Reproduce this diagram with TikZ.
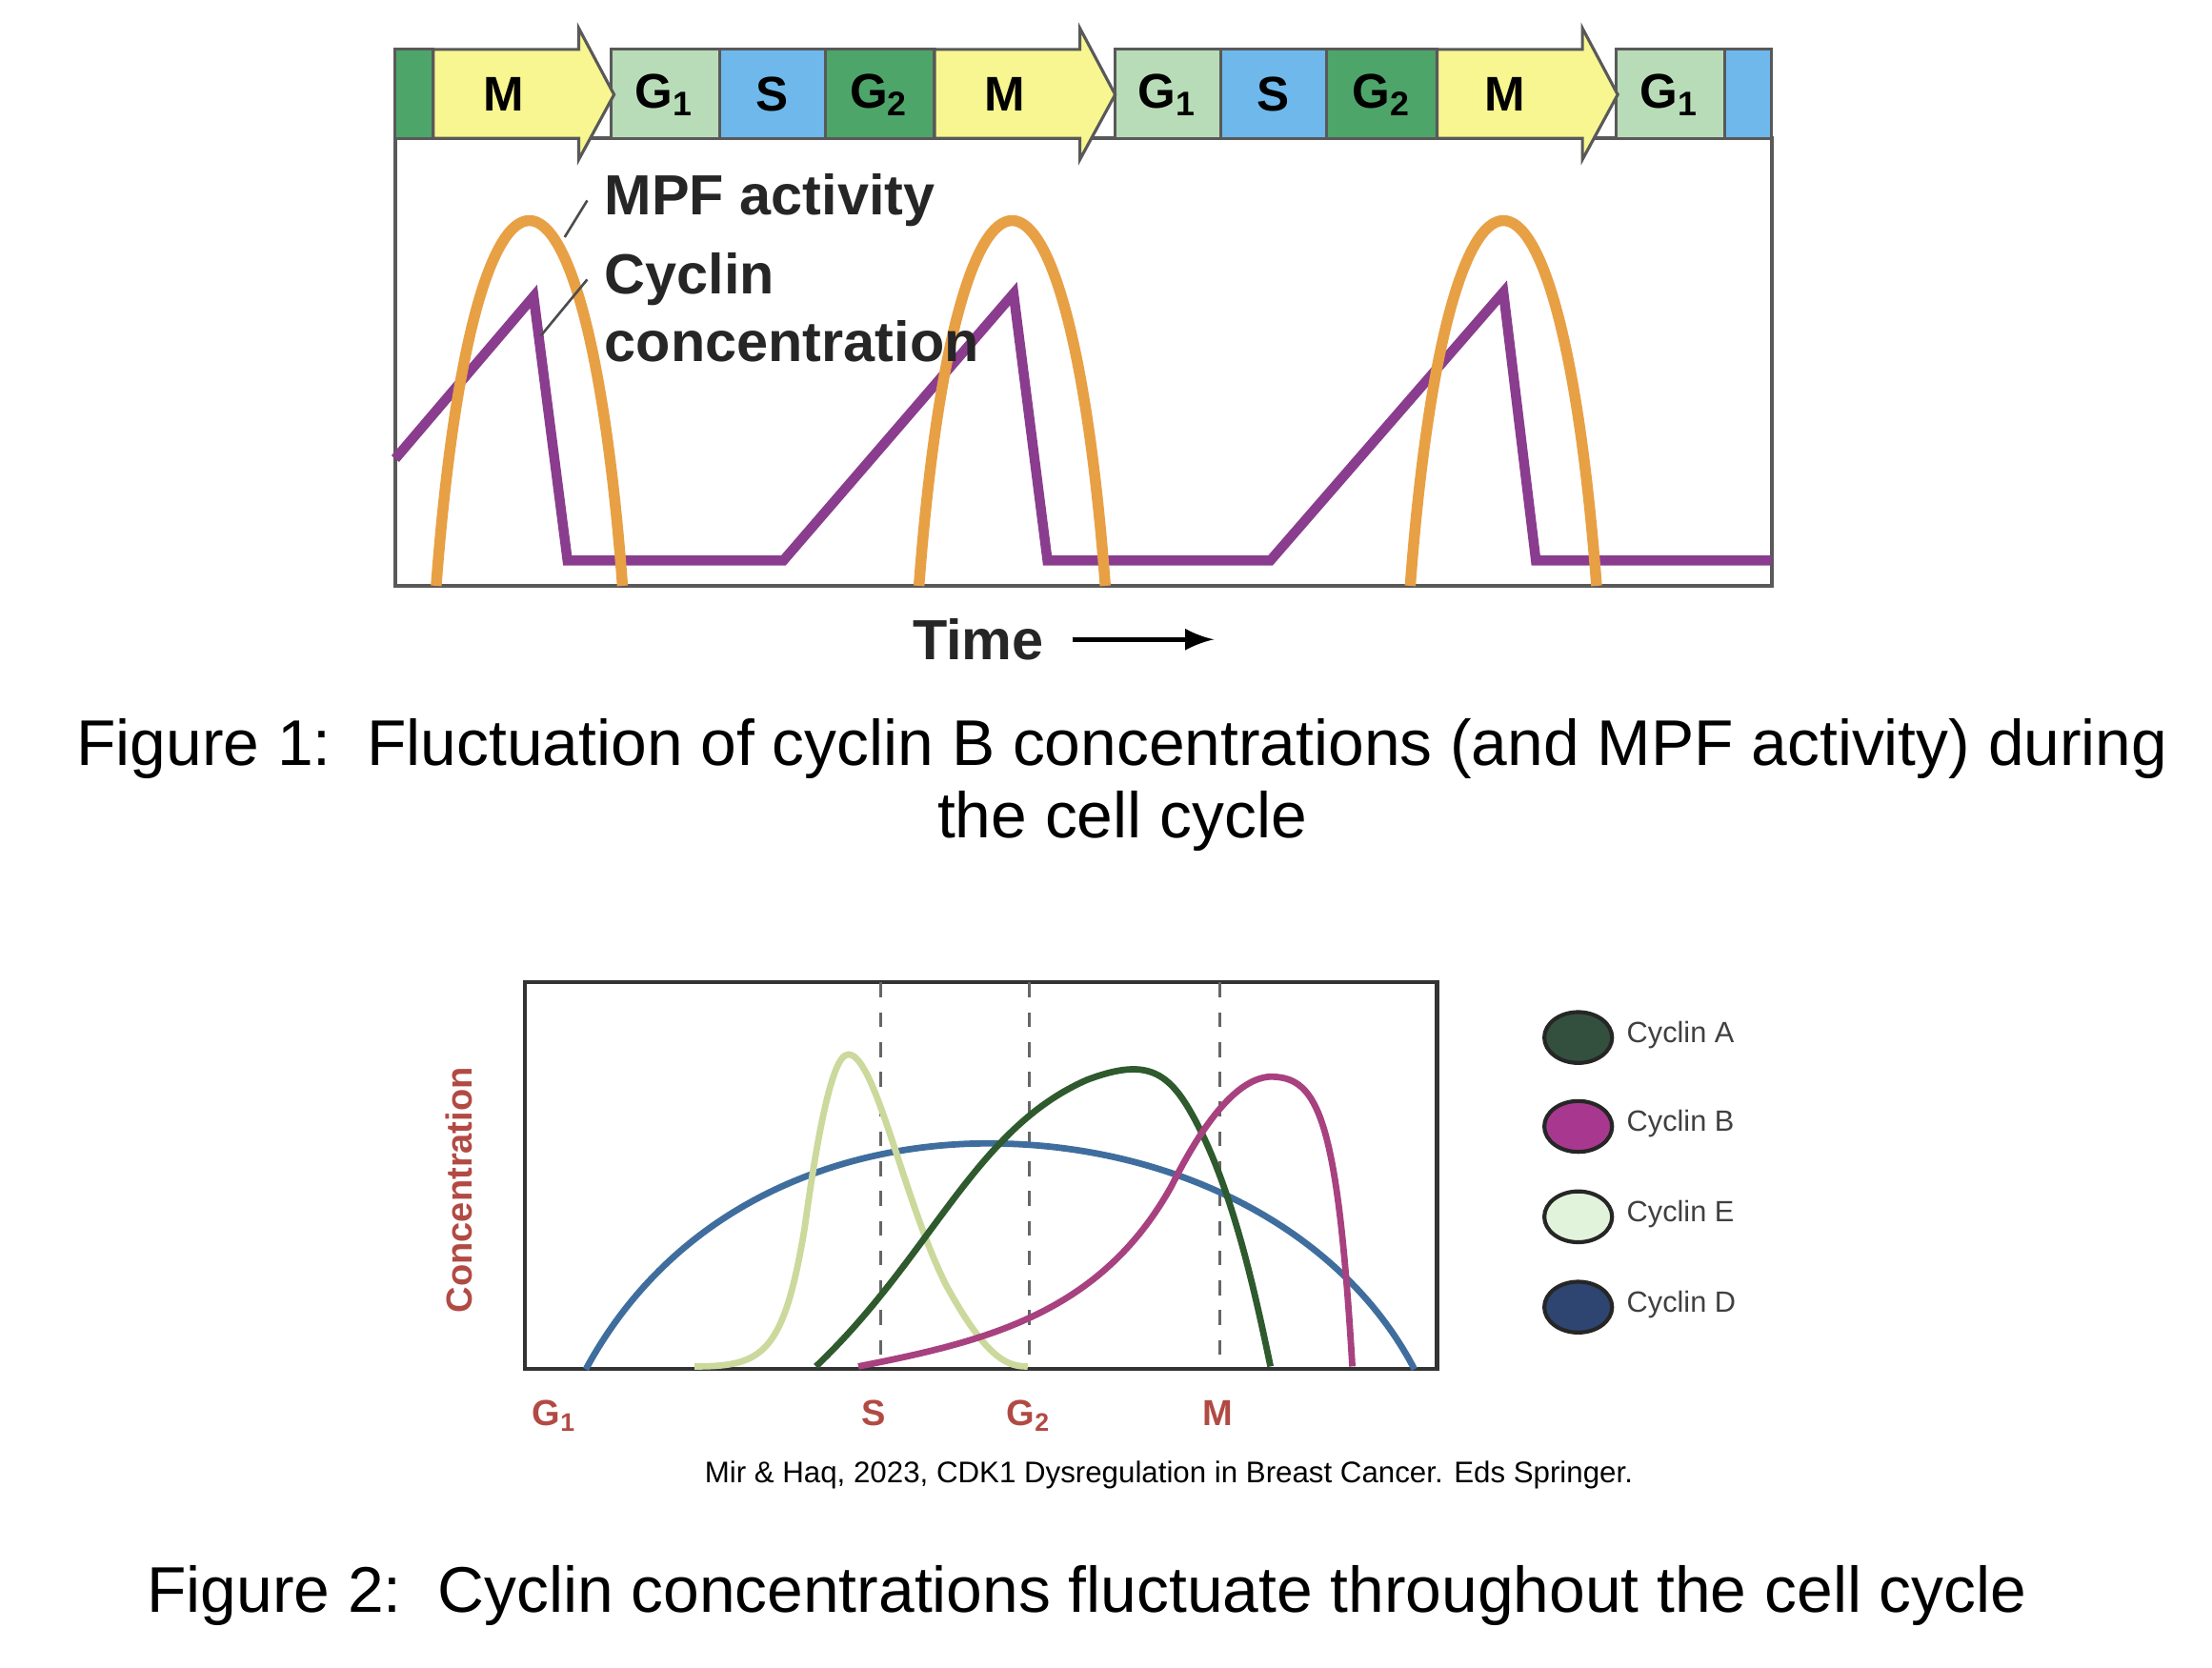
\documentclass[tikz,border=0pt]{standalone}
\usepackage{fontspec}
\setmainfont{Liberation Sans}
\begin{document}
\begin{tikzpicture}[x=0.01cm,y=-0.01cm,
 seg/.style={draw=gray!70!black,line width=0.6pt},
 lab/.style={font=\fontsize{9.8}{12}\selectfont\bfseries},
 big/.style={anchor=west,font=\fontsize{11.4}{13}\selectfont\bfseries,text=black!85},
 capt/.style={font=\fontsize{13}{15.5}\selectfont},
 mpf/.style={draw=mpfc,line width=2.2pt},
 cyc/.style={draw=cycc,line width=2pt},
 ph/.style={font=\fontsize{7.3}{9}\selectfont\bfseries,text=phc},
 leg/.style={font=\fontsize{5.9}{8}\selectfont,text=black!75}]
\definecolor{dg}{HTML}{4EA56A}\definecolor{lg}{HTML}{B8DCB8}\definecolor{bl}{HTML}{6EB8EC}\definecolor{ye}{HTML}{F8F690}
\definecolor{mpfc}{HTML}{E8A045}\definecolor{cycc}{HTML}{8A3D8E}\definecolor{phc}{HTML}{B24A44}
\definecolor{cD}{HTML}{3F6E9E}\definecolor{cE}{HTML}{CBD99C}\definecolor{cA}{HTML}{2E5A2E}\definecolor{cB}{HTML}{A8417F}
\definecolor{lA}{HTML}{33503F}\definecolor{lB}{HTML}{A8388F}\definecolor{lE}{HTML}{E2F3DC}\definecolor{lD}{HTML}{2D4570}
\useasboundingbox (0,0) rectangle (1567,1181);
% plot box
\draw[gray!70!black,line width=0.8pt] (280,98) rectangle (1255,415);
% bar
\filldraw[seg,fill=dg] (280,35) rectangle (307,98);
\foreach \a/\b in {433/510,790/865,1145/1222}{\filldraw[seg,fill=lg] (\a,35) rectangle (\b,98);}
\foreach \a/\b in {510/585,865/940}{\filldraw[seg,fill=bl] (\a,35) rectangle (\b,98);}
\filldraw[seg,fill=bl] (1222,35) rectangle (1255,98);
\foreach \a/\b in {585/662,940/1018}{\filldraw[seg,fill=dg] (\a,35) rectangle (\b,98);}
\foreach \a in {307,662,1018}{\filldraw[seg,fill=ye] (\a,35) -- (\a+103,35) -- (\a+103,20) -- (\a+128,67) -- (\a+103,113) -- (\a+103,98) -- (\a,98) -- cycle;}
\foreach \x/\t in {357/M,712/M,1066/M,547/S,902/S}{\node[lab] (p\x) at (\x,67) {\t};}
\foreach \x in {471,827,1183}{\node[lab] (g\x) at (\x,67) {G$_\mathbf{1}$};}
\foreach \x in {623,979}{\node[lab] (h\x) at (\x,67) {G$_\mathbf{2}$};}
% cyclin
\draw[cyc,line join=miter] (280,325) -- (378,210) -- (402,397) -- (555,397) -- (718,208) -- (742,397) -- (900,397) -- (1065,207) -- (1088,397) -- (1255,397);
% MPF
\foreach \c in {375,717,1065}{\draw[mpf] (\c-66,415) .. controls (\c-40,70) and (\c+40,70) .. (\c+66,415);}
\node[big] (mpfl) at (416,142) {MPF activity};
\node[big] (cycl) at (416,198) {Cyclin};
\node[big] (conl) at (416,242) {concentration};
\coordinate (m1) at (400,168); \coordinate (c1) at (383,238);
\draw[black!70,line width=0.5pt] (m1) -- (mpfl.west);
\draw[black!70,line width=0.5pt] (c1) -- (cycl.west);
\node[big,anchor=center] (time) at (693,453) {Time};
\coordinate (tend) at (860,453);
\draw[-latex,line width=1pt] ([xshift=0.08cm]time.east) -- (tend);
\node[capt,align=center] (f1) at (795,556) {Figure 1:\ \ Fluctuation of cyclin B concentrations (and MPF activity) during\\[-1pt]the cell cycle};
% figure 2
\draw[gray!40!black,line width=0.8pt] (372,696) rectangle (1018,970);
\foreach \x in {624,729,864}{\draw[dashed,gray!80!black,line width=0.5pt] (\x,696) -- (\x,970);}
\draw[line width=1.3pt,draw=cD] (415,970) .. controls (480,850) and (600,810) .. (700,810) .. controls (830,810) and (950,870) .. (1002,970);
\draw[line width=1.3pt,draw=cE] (492,968) .. controls (540,968) and (555,960) .. (570,870) .. controls (585,760) and (595,747) .. (601,747) .. controls (620,747) and (640,850) .. (670,910) .. controls (700,965) and (715,968) .. (728,968);
\draw[line width=1.3pt,draw=cA] (578,968) .. controls (660,890) and (690,800) .. (770,765) .. controls (815,748) and (830,760) .. (850,800) .. controls (875,850) and (890,920) .. (900,968);
\draw[line width=1.3pt,draw=cB] (608,968) .. controls (700,950) and (780,930) .. (830,840) .. controls (860,780) and (885,760) .. (905,763) .. controls (935,766) and (948,800) .. (958,968);
\node[ph,rotate=90] (conc) at (325,843) {Concentration};
\node[ph] (t1) at (393,1003) {G$_\mathbf{1}$};
\node[ph] (t2) at (619,1001) {S};
\node[ph] (t3) at (729,1003) {G$_\mathbf{2}$};
\node[ph] (t4) at (863,1001) {M};
\node[font=\fontsize{6}{8}\selectfont] (cit) at (828,1045) {Mir \& Haq, 2023, CDK1 Dysregulation in Breast Cancer. Eds Springer.};
\foreach \y/\c/\t [count=\i] in {735/lA/A,798/lB/B,862/lE/E,926/lD/D}{
 \filldraw[fill=\c,draw=black!85,line width=0.8pt] (1118,\y) ellipse [x radius=24,y radius=18];
 \node[leg,anchor=west] (l\i) at (1140,\y-2) {Cyclin \t};}
\node[capt] (f2) at (770,1130) {Figure 2:\ \ Cyclin concentrations fluctuate throughout the cell cycle};
\end{tikzpicture}
\end{document}
